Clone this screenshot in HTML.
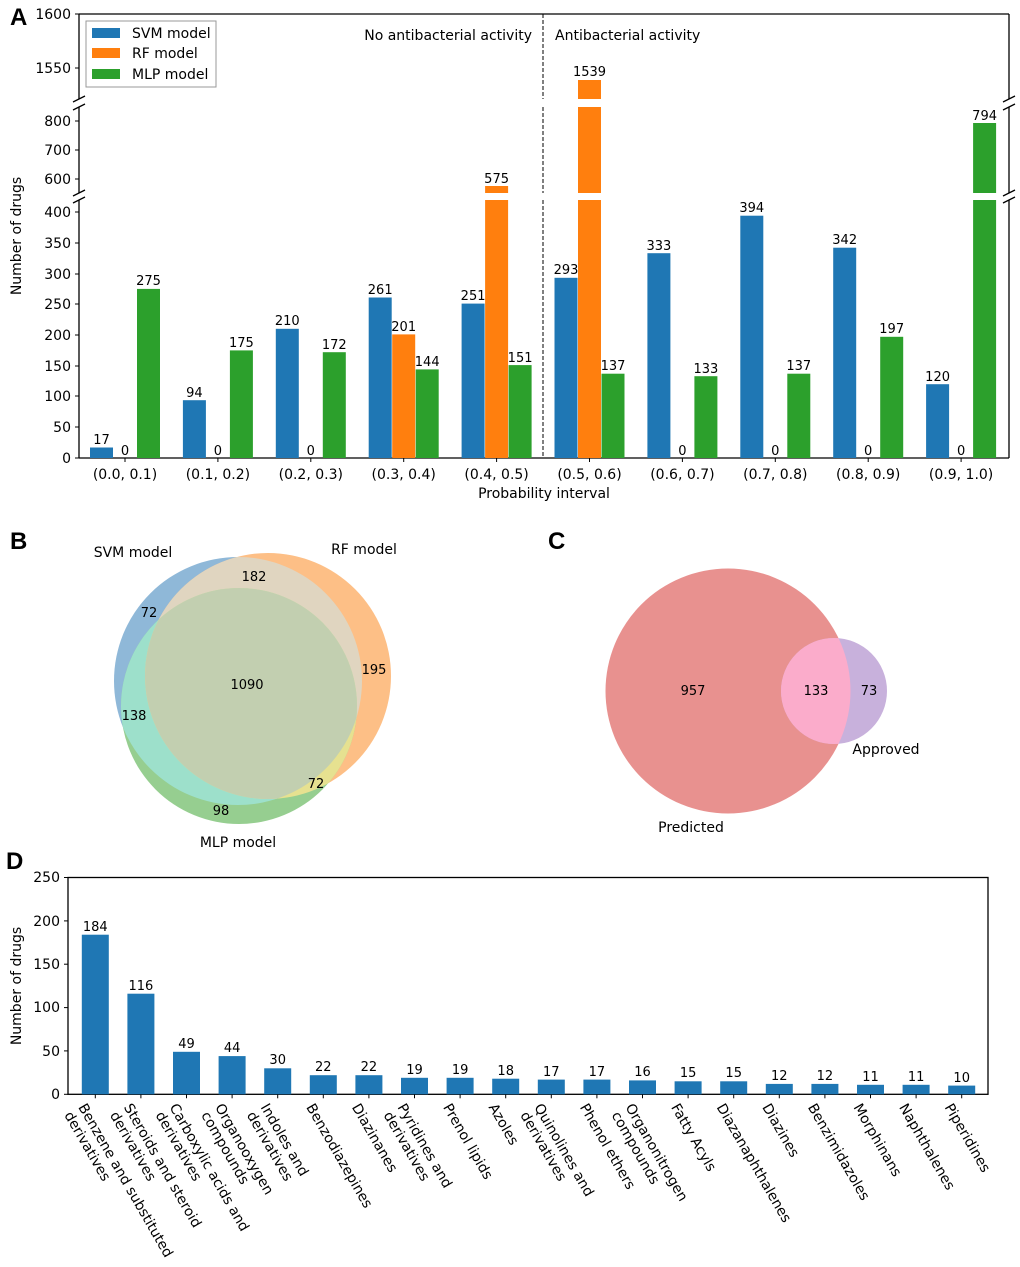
<!DOCTYPE html>
<html><head><meta charset="utf-8"><style>
body{margin:0;background:#fff}
svg{display:block;font-family:"DejaVu Sans","Liberation Sans",sans-serif}
.t{font-size:14px;fill:#000}
.s{font-size:13px;fill:#000}
.L{font-size:24px;font-weight:bold;font-family:"Liberation Sans",sans-serif}
</style></head><body>
<svg width="1020" height="1267" viewBox="0 0 1020 1267" xmlns="http://www.w3.org/2000/svg">
<defs>
<clipPath id="cS"><circle cx="238" cy="681" r="124"/></clipPath>
<clipPath id="cR"><circle cx="268" cy="676" r="123"/></clipPath>
<clipPath id="cM"><circle cx="239" cy="706" r="118"/></clipPath>
<clipPath id="cp"><circle cx="728" cy="691" r="122.5"/></clipPath>
</defs>
<rect width="1020" height="1267" fill="#fff"/>
<text class="L" x="10" y="25">A</text>
<text class="L" x="10" y="549">B</text>
<text class="L" x="548" y="549">C</text>
<text class="L" x="6" y="869">D</text>

<!-- ============ PANEL A ============ -->
<g stroke="#000" stroke-width="1.3" fill="none">
<line x1="79" y1="14" x2="1009" y2="14"/>
<line x1="79" y1="458" x2="1009" y2="458"/>
<line x1="79" y1="14" x2="79" y2="99"/>
<line x1="79" y1="107" x2="79" y2="193"/>
<line x1="79" y1="200" x2="79" y2="458"/>
<line x1="1009" y1="14" x2="1009" y2="99"/>
<line x1="1009" y1="107" x2="1009" y2="193"/>
<line x1="1009" y1="200" x2="1009" y2="458"/>
<line x1="73" y1="102" x2="85" y2="96"/><line x1="73" y1="110" x2="85" y2="104"/>
<line x1="73" y1="196" x2="85" y2="190"/><line x1="73" y1="203" x2="85" y2="197"/>
<line x1="1003" y1="102" x2="1015" y2="96"/><line x1="1003" y1="110" x2="1015" y2="104"/>
<line x1="1003" y1="196" x2="1015" y2="190"/><line x1="1003" y1="203" x2="1015" y2="197"/>
</g>
<g stroke="#000" stroke-width="1" stroke-dasharray="4,2">
<line x1="543" y1="14" x2="543" y2="99"/>
<line x1="543" y1="107" x2="543" y2="193"/>
<line x1="543" y1="200" x2="543" y2="458"/>
</g>
<g stroke="#000" stroke-width="1">
<line x1="75" y1="14" x2="79" y2="14"/><line x1="75" y1="68" x2="79" y2="68"/>
<line x1="75" y1="121" x2="79" y2="121"/><line x1="75" y1="150" x2="79" y2="150"/><line x1="75" y1="179" x2="79" y2="179"/>
<line x1="75" y1="212" x2="79" y2="212"/><line x1="75" y1="243" x2="79" y2="243"/><line x1="75" y1="274" x2="79" y2="274"/>
<line x1="75" y1="304" x2="79" y2="304"/><line x1="75" y1="335" x2="79" y2="335"/><line x1="75" y1="366" x2="79" y2="366"/>
<line x1="75" y1="396" x2="79" y2="396"/><line x1="75" y1="427" x2="79" y2="427"/><line x1="75" y1="458" x2="79" y2="458"/>
<line x1="125" y1="458" x2="125" y2="462"/><line x1="217.9" y1="458" x2="217.9" y2="462"/><line x1="310.8" y1="458" x2="310.8" y2="462"/>
<line x1="403.7" y1="458" x2="403.7" y2="462"/><line x1="496.6" y1="458" x2="496.6" y2="462"/><line x1="589.5" y1="458" x2="589.5" y2="462"/>
<line x1="682.4" y1="458" x2="682.4" y2="462"/><line x1="775.3" y1="458" x2="775.3" y2="462"/><line x1="868.2" y1="458" x2="868.2" y2="462"/>
<line x1="961.1" y1="458" x2="961.1" y2="462"/>
</g>
<g class="t" text-anchor="end">
<text x="71" y="19">1600</text><text x="71" y="73">1550</text>
<text x="71" y="126">800</text><text x="71" y="155">700</text><text x="71" y="184">600</text>
<text x="71" y="217">400</text><text x="71" y="248">350</text><text x="71" y="279">300</text>
<text x="71" y="309">250</text><text x="71" y="340">200</text><text x="71" y="371">150</text>
<text x="71" y="401">100</text><text x="71" y="432">50</text><text x="71" y="463">0</text>
</g>
<text class="t" transform="translate(21,236) rotate(-90)" text-anchor="middle">Number of drugs</text>
<g class="t" text-anchor="middle">
<text x="125" y="479">(0.0, 0.1)</text><text x="217.9" y="479">(0.1, 0.2)</text><text x="310.8" y="479">(0.2, 0.3)</text>
<text x="403.7" y="479">(0.3, 0.4)</text><text x="496.6" y="479">(0.4, 0.5)</text><text x="589.5" y="479">(0.5, 0.6)</text>
<text x="682.4" y="479">(0.6, 0.7)</text><text x="775.3" y="479">(0.7, 0.8)</text><text x="868.2" y="479">(0.8, 0.9)</text>
<text x="961.1" y="479">(0.9, 1.0)</text>
<text x="544" y="498">Probability interval</text>
</g>
<text class="t" x="532" y="40" text-anchor="end">No antibacterial activity</text>
<text class="t" x="555" y="40">Antibacterial activity</text>
<g fill="#1f77b4">
<rect x="90" y="447.5" width="23" height="10.5"/><rect x="182.9" y="400.2" width="23" height="57.8"/>
<rect x="275.8" y="328.8" width="23" height="129.2"/><rect x="368.7" y="297.5" width="23" height="160.5"/>
<rect x="461.6" y="303.6" width="23" height="154.4"/><rect x="554.5" y="277.8" width="23" height="180.2"/>
<rect x="647.4" y="253.2" width="23" height="204.8"/><rect x="740.3" y="215.7" width="23" height="242.3"/>
<rect x="833.2" y="247.7" width="23" height="210.3"/><rect x="926.1" y="384.2" width="23" height="73.8"/>
</g>
<g fill="#ff7f0e">
<rect x="392.2" y="334.4" width="23" height="123.6"/>
<rect x="485.1" y="200" width="23" height="258"/><rect x="485.1" y="186" width="23" height="7"/>
<rect x="578" y="200" width="23" height="258"/><rect x="578" y="107" width="23" height="86"/><rect x="578" y="80" width="23" height="19"/>
</g>
<g fill="#2ca02c">
<rect x="137" y="288.9" width="23" height="169.1"/><rect x="229.9" y="350.4" width="23" height="107.6"/>
<rect x="322.8" y="352.2" width="23" height="105.8"/><rect x="415.7" y="369.4" width="23" height="88.6"/>
<rect x="508.6" y="365.1" width="23" height="92.9"/><rect x="601.5" y="373.7" width="23" height="84.3"/>
<rect x="694.4" y="376.2" width="23" height="81.8"/><rect x="787.3" y="373.7" width="23" height="84.3"/>
<rect x="880.2" y="336.8" width="23" height="121.2"/>
<rect x="973.1" y="200" width="23" height="258"/><rect x="973.1" y="123" width="23" height="70"/>
</g>
<g class="s" text-anchor="middle">
<text x="101.5" y="444">17</text><text x="194.4" y="397">94</text><text x="287.3" y="325">210</text>
<text x="380.2" y="294">261</text><text x="473.1" y="300">251</text><text x="566" y="274">293</text>
<text x="658.9" y="250">333</text><text x="751.8" y="212">394</text><text x="844.7" y="244">342</text><text x="937.6" y="381">120</text>
<text x="125" y="455">0</text><text x="217.9" y="455">0</text><text x="310.8" y="455">0</text>
<text x="403.7" y="331">201</text><text x="496.6" y="183">575</text><text x="589.5" y="76">1539</text>
<text x="682.4" y="455">0</text><text x="775.3" y="455">0</text><text x="868.2" y="455">0</text><text x="961.1" y="455">0</text>
<text x="148.5" y="285">275</text><text x="241.4" y="347">175</text><text x="334.3" y="349">172</text>
<text x="427.2" y="366">144</text><text x="520.1" y="362">151</text><text x="613" y="370">137</text>
<text x="705.9" y="373">133</text><text x="798.8" y="370">137</text><text x="891.7" y="333">197</text><text x="984.6" y="120">794</text>
</g>
<rect x="86" y="21" width="130" height="66" fill="#fff" stroke="#999" stroke-width="1"/>
<rect x="92" y="28" width="28" height="10" fill="#1f77b4"/>
<rect x="92" y="48" width="28" height="10" fill="#ff7f0e"/>
<rect x="92" y="69" width="28" height="10" fill="#2ca02c"/>
<text class="t" x="132" y="38">SVM model</text>
<text class="t" x="132" y="58">RF model</text>
<text class="t" x="132" y="79">MLP model</text>

<!-- ============ PANEL B ============ -->
<circle cx="238" cy="681" r="124" fill="#8fb8d8"/>
<circle cx="268" cy="676" r="123" fill="#fdbf86"/>
<circle cx="239" cy="706" r="118" fill="#96ce90"/>
<g clip-path="url(#cS)"><circle cx="268" cy="676" r="123" fill="#e0d5c0"/></g>
<g clip-path="url(#cS)"><circle cx="239" cy="706" r="118" fill="#9de0cb"/></g>
<g clip-path="url(#cR)"><circle cx="239" cy="706" r="118" fill="#e6e190"/></g>
<g clip-path="url(#cS)"><g clip-path="url(#cR)"><circle cx="239" cy="706" r="118" fill="#c2cfb0"/></g></g>
<g class="t" text-anchor="middle">
<text x="133" y="557">SVM model</text><text x="364" y="554">RF model</text><text x="238" y="847">MLP model</text>
</g>
<g class="s" text-anchor="middle">
<text x="254" y="581">182</text><text x="149" y="617">72</text><text x="247" y="689">1090</text>
<text x="374" y="674">195</text><text x="134" y="720">138</text><text x="316" y="788">72</text><text x="221" y="815">98</text>
</g>

<!-- ============ PANEL C ============ -->
<circle cx="728" cy="691" r="122.5" fill="#e8918f"/>
<circle cx="834" cy="691" r="53" fill="#c8b1dc"/>
<circle cx="834" cy="691" r="53" fill="#fbaccb" clip-path="url(#cp)"/>
<g class="s" text-anchor="middle">
<text x="693" y="695">957</text><text x="816" y="695">133</text><text x="869" y="695">73</text>
</g>
<g class="t" text-anchor="middle">
<text x="886" y="754">Approved</text><text x="691" y="832">Predicted</text>
</g>

<!-- ============ PANEL D ============ -->
<rect x="68" y="877.5" width="920" height="216.8" fill="none" stroke="#000" stroke-width="1.3"/>
<g stroke="#000" stroke-width="1">
<line x1="64" y1="1094.3" x2="68" y2="1094.3"/><line x1="64" y1="1050.9" x2="68" y2="1050.9"/>
<line x1="64" y1="1007.6" x2="68" y2="1007.6"/><line x1="64" y1="964.2" x2="68" y2="964.2"/>
<line x1="64" y1="920.9" x2="68" y2="920.9"/><line x1="64" y1="877.5" x2="68" y2="877.5"/>
</g>
<g class="t" text-anchor="end">
<text x="60" y="1099">0</text><text x="60" y="1056">50</text><text x="60" y="1012">100</text>
<text x="60" y="969">150</text><text x="60" y="926">200</text><text x="60" y="882">250</text>
</g>
<text class="t" transform="translate(21,986) rotate(-90)" text-anchor="middle">Number of drugs</text>
<g fill="#1f77b4">
<rect x="81.8" y="934.7" width="27" height="159.6"/><rect x="127.4" y="993.7" width="27" height="100.6"/>
<rect x="173" y="1051.8" width="27" height="42.5"/><rect x="218.6" y="1056.1" width="27" height="38.2"/>
<rect x="264.2" y="1068.3" width="27" height="26"/><rect x="309.8" y="1075.2" width="27" height="19.1"/>
<rect x="355.4" y="1075.2" width="27" height="19.1"/><rect x="401" y="1077.8" width="27" height="16.5"/>
<rect x="446.6" y="1077.8" width="27" height="16.5"/><rect x="492.2" y="1078.7" width="27" height="15.6"/>
<rect x="537.8" y="1079.6" width="27" height="14.7"/><rect x="583.4" y="1079.6" width="27" height="14.7"/>
<rect x="629" y="1080.4" width="27" height="13.9"/><rect x="674.6" y="1081.3" width="27" height="13"/>
<rect x="720.2" y="1081.3" width="27" height="13"/><rect x="765.8" y="1083.9" width="27" height="10.4"/>
<rect x="811.4" y="1083.9" width="27" height="10.4"/><rect x="857" y="1084.8" width="27" height="9.5"/>
<rect x="902.6" y="1084.8" width="27" height="9.5"/><rect x="948.2" y="1085.6" width="27" height="8.7"/>
</g>
<g class="s" text-anchor="middle">
<text x="95.3" y="931">184</text><text x="140.9" y="990">116</text><text x="186.5" y="1048">49</text><text x="232.1" y="1052">44</text>
<text x="277.7" y="1064">30</text><text x="323.3" y="1071">22</text><text x="368.9" y="1071">22</text><text x="414.5" y="1074">19</text>
<text x="460.1" y="1074">19</text><text x="505.7" y="1075">18</text><text x="551.3" y="1076">17</text><text x="596.9" y="1076">17</text>
<text x="642.5" y="1076">16</text><text x="688.1" y="1077">15</text><text x="733.7" y="1077">15</text><text x="779.3" y="1080">12</text>
<text x="824.9" y="1080">12</text><text x="870.5" y="1081">11</text><text x="916.1" y="1081">11</text><text x="961.7" y="1082">10</text>
</g>
<g stroke="#000" stroke-width="1">
<line x1="95.3" y1="1094.3" x2="95.3" y2="1098.3"/><line x1="140.9" y1="1094.3" x2="140.9" y2="1098.3"/>
<line x1="186.5" y1="1094.3" x2="186.5" y2="1098.3"/><line x1="232.1" y1="1094.3" x2="232.1" y2="1098.3"/>
<line x1="277.7" y1="1094.3" x2="277.7" y2="1098.3"/><line x1="323.3" y1="1094.3" x2="323.3" y2="1098.3"/>
<line x1="368.9" y1="1094.3" x2="368.9" y2="1098.3"/><line x1="414.5" y1="1094.3" x2="414.5" y2="1098.3"/>
<line x1="460.1" y1="1094.3" x2="460.1" y2="1098.3"/><line x1="505.7" y1="1094.3" x2="505.7" y2="1098.3"/>
<line x1="551.3" y1="1094.3" x2="551.3" y2="1098.3"/><line x1="596.9" y1="1094.3" x2="596.9" y2="1098.3"/>
<line x1="642.5" y1="1094.3" x2="642.5" y2="1098.3"/><line x1="688.1" y1="1094.3" x2="688.1" y2="1098.3"/>
<line x1="733.7" y1="1094.3" x2="733.7" y2="1098.3"/><line x1="779.3" y1="1094.3" x2="779.3" y2="1098.3"/>
<line x1="824.9" y1="1094.3" x2="824.9" y2="1098.3"/><line x1="870.5" y1="1094.3" x2="870.5" y2="1098.3"/>
<line x1="916.1" y1="1094.3" x2="916.1" y2="1098.3"/><line x1="961.7" y1="1094.3" x2="961.7" y2="1098.3"/>
</g>
<g class="t">
<g transform="translate(88.3,1101) rotate(60)"><text y="12">Benzene and substituted</text><text y="28">derivatives</text></g>
<g transform="translate(133.9,1101) rotate(60)"><text y="12">Steroids and steroid</text><text y="28">derivatives</text></g>
<g transform="translate(179.5,1101) rotate(60)"><text y="12">Carboxylic acids and</text><text y="28">derivatives</text></g>
<g transform="translate(225.1,1101) rotate(60)"><text y="12">Organooxygen</text><text y="28">compounds</text></g>
<g transform="translate(270.7,1101) rotate(60)"><text y="12">Indoles and</text><text y="28">derivatives</text></g>
<g transform="translate(316.3,1101) rotate(60)"><text y="12">Benzodiazepines</text></g>
<g transform="translate(361.9,1101) rotate(60)"><text y="12">Diazinanes</text></g>
<g transform="translate(407.5,1101) rotate(60)"><text y="12">Pyridines and</text><text y="28">derivatives</text></g>
<g transform="translate(453.1,1101) rotate(60)"><text y="12">Prenol lipids</text></g>
<g transform="translate(498.7,1101) rotate(60)"><text y="12">Azoles</text></g>
<g transform="translate(544.3,1101) rotate(60)"><text y="12">Quinolines and</text><text y="28">derivatives</text></g>
<g transform="translate(589.9,1101) rotate(60)"><text y="12">Phenol ethers</text></g>
<g transform="translate(635.5,1101) rotate(60)"><text y="12">Organonitrogen</text><text y="28">compounds</text></g>
<g transform="translate(681.1,1101) rotate(60)"><text y="12">Fatty Acyls</text></g>
<g transform="translate(726.7,1101) rotate(60)"><text y="12">Diazanaphthalenes</text></g>
<g transform="translate(772.3,1101) rotate(60)"><text y="12">Diazines</text></g>
<g transform="translate(817.9,1101) rotate(60)"><text y="12">Benzimidazoles</text></g>
<g transform="translate(863.5,1101) rotate(60)"><text y="12">Morphinans</text></g>
<g transform="translate(909.1,1101) rotate(60)"><text y="12">Naphthalenes</text></g>
<g transform="translate(954.7,1101) rotate(60)"><text y="12">Piperidines</text></g>
</g>
</svg>
</body></html>
